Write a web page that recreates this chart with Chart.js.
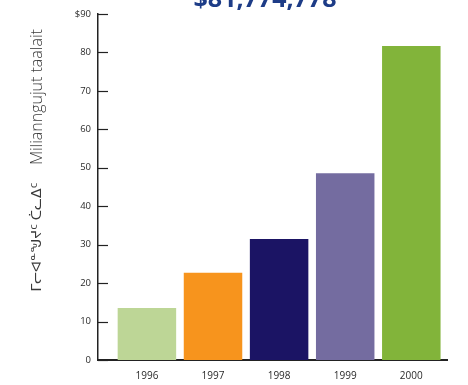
<!DOCTYPE html>
<html>
<head>
<meta charset="utf-8">
<script src="https://cdn.jsdelivr.net/npm/chart.js@4"></script>
<style>
  html, body { margin: 0; padding: 0; background: #fff; }
  #wrap { width: 468px; height: 385px; position: relative; }
</style>
</head>
<body>
<div id="wrap"><canvas id="chart" width="468" height="385"></canvas></div>
<script>
// data
const years = ['1996', '1997', '1998', '1999', '2000'];
const values = [13.5, 22.7, 31.5, 48.6, 81.7];
const barColors = ['#bdd696', '#f7941d', '#1b1464', '#746ca0', '#82b43a'];
const yTicks = [0, 10, 20, 30, 40, 50, 60, 70, 80, 90];
const titleText = '$81,774,778';
const yTitleLatin = 'Milianngujut taalait';
const yTitleSyll = 'ᒥᓕᐊᓐᖑᔪᑦ ᑖᓚᐃᑦ';

const FONT = "'Open Sans', 'DejaVu Sans', sans-serif";

// inward tick marks, y axis title, cropped headline
const extras = {
    id: 'extras',
    afterDraw(chart) {
        const ctx = chart.ctx;
        const y = chart.scales.y;
        const left = chart.chartArea.left;
        ctx.save();
        ctx.strokeStyle = '#222';
        ctx.lineWidth = 1.2;
        yTicks.forEach(v => {
            const py = Math.round(y.getPixelForValue(v)) + 0.5;
            ctx.beginPath();
            ctx.moveTo(left, py);
            ctx.lineTo(left + 10, py);
            ctx.stroke();
        });

        // headline (cut off by the top edge)
        ctx.fillStyle = '#1d3c87';
        ctx.font = 'bold 25px ' + FONT;
        ctx.textAlign = 'center';
        ctx.textBaseline = 'alphabetic';
        ctx.fillText(titleText, 265, 7);

        // rotated y title
        ctx.fillStyle = '#3a3a3a';
        ctx.translate(37, 0);
        ctx.rotate(-Math.PI / 2);
        ctx.textBaseline = 'middle';
        ctx.font = '300 16px ' + FONT;
        ctx.fillText(yTitleLatin, -97, 0);
        ctx.font = '14px ' + FONT;
        ctx.fillText(yTitleSyll, -237, 0);
        ctx.restore();
    }
};

const ctx = document.getElementById('chart').getContext('2d');
new Chart(ctx, {
    type: 'bar',
    data: {
        datasets: [{
            data: years.map((yr, i) => ({ x: Number(yr), y: values[i] })),
            backgroundColor: barColors,
            borderWidth: 0,
            barPercentage: 0.885,
            categoryPercentage: 1
        }]
    },
    options: {
        responsive: false,
        animation: false,
        layout: { padding: { top: 14, right: 21, left: 0, bottom: 0 } },
        plugins: {
            legend: { display: false },
            tooltip: { enabled: false }
        },
        scales: {
            x: {
                type: 'linear',
                offset: false,
                min: 1995.26,
                max: 2000.54,
                grid: { display: false, drawTicks: false, offset: false },
                border: { display: true, color: '#222', width: 2 },
                ticks: {
                    stepSize: 1,
                    includeBounds: false,
                    padding: 10,
                    color: '#2a2a2a',
                    font: { family: FONT, size: 10 },
                    callback: v => String(v)
                },
                afterFit: s => { s.height = 25; }
            },
            y: {
                min: 0,
                max: 90,
                grid: { display: false, drawTicks: false },
                border: { display: true, color: '#222', width: 1.5 },
                ticks: {
                    stepSize: 10,
                    padding: 7,
                    color: '#2a2a2a',
                    font: { family: FONT, size: 9.5 },
                    callback: v => (v === 90 ? '$' + v : String(v))
                },
                afterFit: s => { s.width = 98; }
            }
        }
    },
    plugins: [extras]
});
</script>
</body>
</html>
